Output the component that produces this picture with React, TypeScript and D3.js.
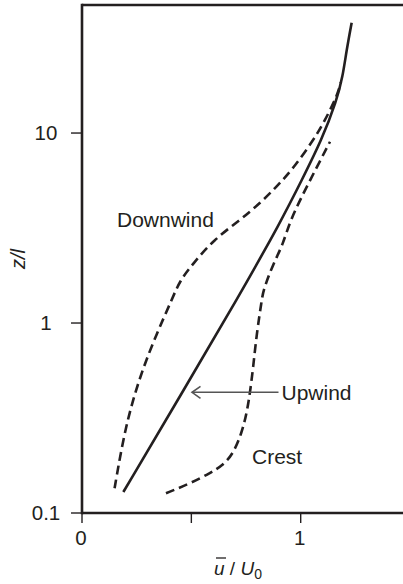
import React from "react";
import * as d3 from "d3";

// Data: u/U0 (x) vs z/l (y, log scale)
const upwindU = [0.189, 0.46, 0.707, 0.913, 1.005, 1.096, 1.165, 1.192, 1.21, 1.233];
const upwindZ = [0.129, 0.434, 1.32, 3.48, 5.66, 9.18, 14.9, 19.8, 27.4, 38.1];

const downwindU = [0.149, 0.182, 0.219, 0.273, 0.342, 0.41, 0.448, 0.509, 0.6, 0.722, 0.814, 0.89, 0.966, 1.058, 1.103, 1.165, 1.184];
const downwindZ = [0.135, 0.224, 0.348, 0.555, 0.883, 1.32, 1.68, 2.06, 2.73, 3.48, 4.27, 5.22, 6.51, 9.18, 11.2, 15.5, 18.5];

const crestU = [0.384, 0.494, 0.585, 0.646, 0.692, 0.73, 0.753, 0.768, 0.783, 0.799, 0.822, 0.829, 0.875, 0.92, 0.951, 1.043, 1.134];
const crestZ = [0.127, 0.143, 0.162, 0.179, 0.206, 0.263, 0.335, 0.427, 0.589, 0.883, 1.32, 1.49, 2.06, 2.6, 3.48, 5.66, 9.0];

const xTicks = [0, 0.5, 1];
const xTickLabels = ["0", "", "1"];
const yTicks = [0.1, 1, 10];
const yTickLabels = ["0.1", "1", "10"];

const W = 403;
const H = 584;
const FONT = "'Liberation Sans', Arial, Helvetica, sans-serif";
const INK = "#231f20";

export default function App() {
  const x = d3.scaleLinear().domain([0, 1.5]).range([82, 82 + 1.5 * 218.7]);
  const y = d3.scaleLog().domain([0.1, 47.2]).range([513, 5]);

  const line = d3
    .line<[number, number]>()
    .x((d) => x(d[0]))
    .y((d) => y(d[1]))
    .curve(d3.curveBasis);

  const zip = (a: number[], b: number[]) => a.map((v, i) => [v, b[i]] as [number, number]);

  const x0 = x(0);
  const yBottom = y(0.1);
  const yTop = y(47.2);

  return (
    <svg
      width={W}
      height={H}
      style={{ position: "absolute", left: 0, top: 0, background: "#fff" }}
      fontFamily={FONT}
    >
      {/* frame */}
      <line x1={x0} x2={W} y1={yTop} y2={yTop} stroke={INK} strokeWidth={2.6} />
      <line x1={x0} x2={W} y1={yBottom} y2={yBottom} stroke={INK} strokeWidth={2.6} />
      <line x1={x0} x2={x0} y1={yTop - 1.3} y2={yBottom + 1.3} stroke={INK} strokeWidth={2.6} />

      {/* y ticks */}
      {yTicks.map((t, i) => (
        <g key={"yt" + i}>
          <line x1={71} x2={x0} y1={y(t)} y2={y(t)} stroke={INK} strokeWidth={1.4} />
          <text x={46} y={y(t)} dy="0.35em" textAnchor="middle" fontSize={20.5} fill={INK}>
            {yTickLabels[i]}
          </text>
        </g>
      ))}

      {/* x ticks */}
      {xTicks.map((t, i) => (
        <g key={"xt" + i}>
          <line x1={x(t)} x2={x(t)} y1={yBottom} y2={yBottom + 10} stroke={INK} strokeWidth={1.4} />
          {xTickLabels[i] && (
            <text x={x(t) - 1} y={545} textAnchor="middle" fontSize={20.5} fill={INK}>
              {xTickLabels[i]}
            </text>
          )}
        </g>
      ))}

      {/* axis titles */}
      <text transform="translate(25,259) rotate(-90)" textAnchor="middle" fontSize={20} fontStyle="italic" fill={INK}>
        z/l
      </text>
      <line x1={216} x2={226} y1={558} y2={558} stroke={INK} strokeWidth={1.3} />
      <text x={214} y={575} fontSize={19} fill={INK}>
        <tspan fontStyle="italic">u</tspan>
        <tspan> / </tspan>
        <tspan fontStyle="italic">U</tspan>
        <tspan fontSize={14} dy={4}>0</tspan>
      </text>

      {/* curves */}
      <path d={line(zip(upwindU, upwindZ)) || ""} fill="none" stroke={INK} strokeWidth={2.6} />
      <path
        d={line(zip(downwindU, downwindZ)) || ""}
        fill="none"
        stroke={INK}
        strokeWidth={2.6}
        strokeDasharray="9,5"
      />
      <path
        d={line(zip(crestU, crestZ)) || ""}
        fill="none"
        stroke={INK}
        strokeWidth={2.6}
        strokeDasharray="9,5"
      />

      {/* labels */}
      <text x={117} y={226.5} fontSize={21} fill={INK}>
        Downwind
      </text>
      <text x={252} y={463.5} fontSize={21} fill={INK}>
        Crest
      </text>
      <text x={281.5} y={400} fontSize={21} fill={INK}>
        Upwind
      </text>
      <line x1={192} x2={278.5} y1={392.3} y2={392.3} stroke="#555" strokeWidth={1.6} />
      <polyline
        points="200.5,386.3 192,392.3 200.5,398.3"
        fill="none"
        stroke="#555"
        strokeWidth={1.6}
      />
    </svg>
  );
}
